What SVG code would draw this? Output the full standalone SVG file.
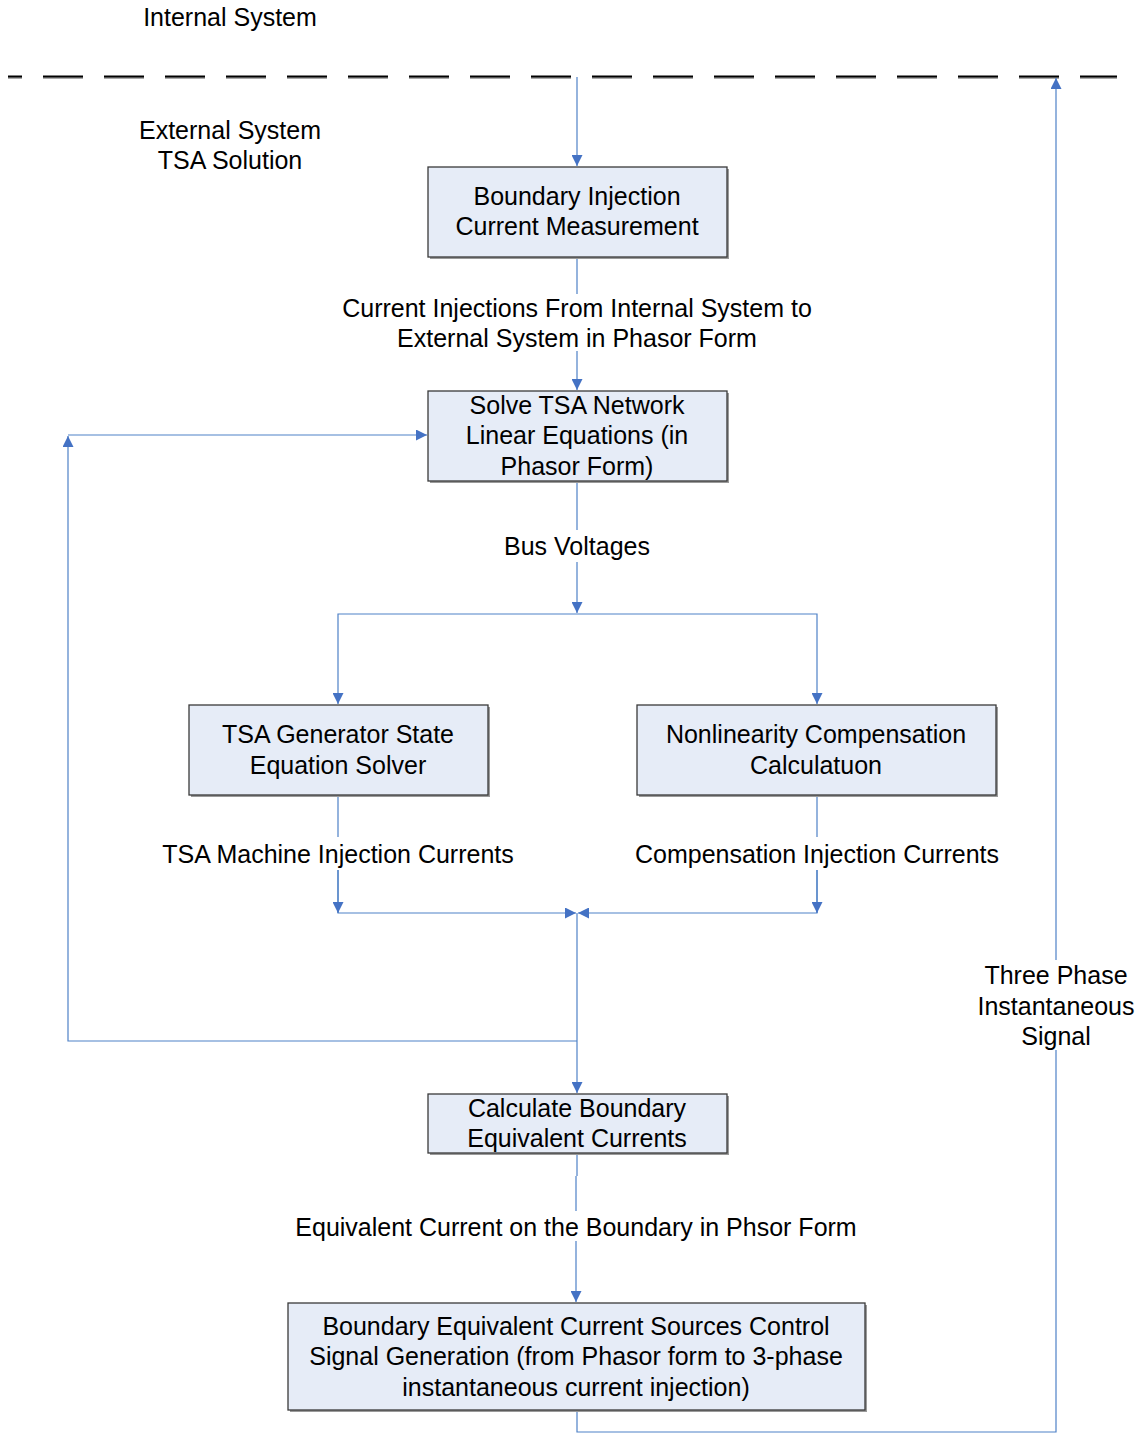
<svg xmlns="http://www.w3.org/2000/svg" width="1143" height="1437" viewBox="0 0 1143 1437">
<style>
text{font-family:"Liberation Sans",Arial,sans-serif;font-size:25px;fill:#000;text-anchor:middle}
.box{fill:#E6ECF7;stroke:#3a3a3a;stroke-width:1.3}
.sh{fill:#9a9a9a}
.c{fill:none;stroke:#4F81C7;stroke-width:1.2}
</style>
<defs>
<marker id="a" viewBox="0 0 10 10" refX="10" refY="5" markerWidth="11" markerHeight="11" markerUnits="userSpaceOnUse" orient="auto"><path d="M0,0L10,5L0,10z" fill="#4472C4"/></marker>
</defs>
<rect width="1143" height="1437" fill="#fff"/>
<line x1="8" y1="78" x2="1117" y2="78" stroke="#aaa" stroke-width="2" stroke-dasharray="40 21" stroke-dashoffset="26"/>
<line x1="8" y1="76.5" x2="1117" y2="76.5" stroke="#000" stroke-width="2.2" stroke-dasharray="40 21" stroke-dashoffset="26"/>
<text x="230" y="26">Internal System</text>
<text x="230" y="139">External System</text>
<text x="230" y="169">TSA Solution</text>
<g id="connectors">
<path class="c" d="M577,77V166" marker-end="url(#a)"/>
<path class="c" d="M577,257V294M577,351V390" marker-end="url(#a)"/>
<path class="c" d="M577,481V530M577,562V613" marker-end="url(#a)"/>
<path class="c" d="M577,614H338V704" marker-end="url(#a)"/>
<path class="c" d="M577,614H817V704" marker-end="url(#a)"/>
<path class="c" d="M338,795V837M338,870V913H576" marker-end="url(#a)"/>
<path class="c" d="M817,795V837M817,870V913H578" marker-end="url(#a)"/>
<path class="c" d="M817,870V913" marker-end="url(#a)"/>
<path class="c" d="M338,870V913" marker-end="url(#a)"/>
<path class="c" d="M577,913V1093" marker-end="url(#a)"/>
<path class="c" d="M577,1041H68V436" marker-end="url(#a)"/>
<path class="c" d="M68,435H427" marker-end="url(#a)"/>
<path class="c" d="M577,1153V1176M576,1176V1211M576,1241V1302" marker-end="url(#a)"/>
<path class="c" d="M577,1410V1432H1056V1050M1056,960V78" marker-end="url(#a)"/>
</g>
<text x="577" y="317">Current Injections From Internal System to</text>
<text x="577" y="347">External System in Phasor Form</text>
<text x="577" y="555">Bus Voltages</text>
<text x="338" y="863">TSA Machine Injection Currents</text>
<text x="817" y="863">Compensation Injection Currents</text>
<text x="576" y="1236">Equivalent Current on the Boundary in Phsor Form</text>
<text x="1056" y="984">Three Phase</text>
<text x="1056" y="1015">Instantaneous</text>
<text x="1056" y="1045">Signal</text>
<g id="n1"><rect class="sh" x="430" y="169" width="299" height="90"/><rect class="box" x="428" y="167" width="299" height="90"/><text x="577" y="205">Boundary Injection</text><text x="577" y="235">Current Measurement</text></g>
<g id="n2"><rect class="sh" x="430" y="393" width="299" height="90"/><rect class="box" x="428" y="391" width="299" height="90"/><text x="577" y="414">Solve TSA Network</text><text x="577" y="444">Linear Equations (in</text><text x="577" y="475">Phasor Form)</text></g>
<g id="n3"><rect class="sh" x="191" y="707" width="299" height="90"/><rect class="box" x="189" y="705" width="299" height="90"/><text x="338" y="743">TSA Generator State</text><text x="338" y="774">Equation Solver</text></g>
<g id="n4"><rect class="sh" x="639" y="707" width="359" height="90"/><rect class="box" x="637" y="705" width="359" height="90"/><text x="816" y="743">Nonlinearity Compensation</text><text x="816" y="774">Calculatuon</text></g>
<g id="n5"><rect class="sh" x="430" y="1096" width="299" height="59"/><rect class="box" x="428" y="1094" width="299" height="59"/><text x="577" y="1117">Calculate Boundary</text><text x="577" y="1147">Equivalent Currents</text></g>
<g id="n6"><rect class="sh" x="290" y="1305" width="577" height="107"/><rect class="box" x="288" y="1303" width="577" height="107"/><text x="576" y="1335">Boundary Equivalent Current Sources Control</text><text x="576" y="1365">Signal Generation (from Phasor form to 3-phase</text><text x="576" y="1396">instantaneous current injection)</text></g>
</svg>
